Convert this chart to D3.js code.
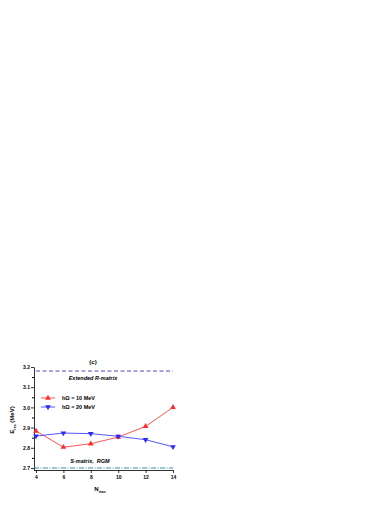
<!DOCTYPE html>
<html>
<head>
<meta charset="utf-8">
<script src="https://cdn.jsdelivr.net/npm/d3@7"></script>
<style>
  body { margin: 0; background: #fff; }
  svg { display: block; font-family: Arial, "Liberation Sans", sans-serif; }
</style>
</head>
<body>
<svg width="390" height="505"></svg>
<script>
const nmax = [4, 6, 8, 10, 12, 14];
const e10 = [2.883, 2.803, 2.82, 2.853, 2.906, 3.0];
const e20 = [2.858, 2.873, 2.87, 2.857, 2.84, 2.805];
const rMatrix = 3.18;
const sMatrix = 2.7;
const yTicks = [2.7, 2.8, 2.9, 3.0, 3.1, 3.2];
const xTicks = [4, 6, 8, 10, 12, 14];
const series = [
  { label: 'h\u03A9 = 10 MeV', values: e10, color: '#ff2a2a', shape: d3.symbolTriangle, rot: 0 },
  { label: 'h\u03A9 = 20 MeV', values: e20, color: '#2a2aff', shape: d3.symbolTriangle, rot: 180 },
];

const svg = d3.select('svg');

// scales
const x = d3.scaleLinear().domain([4, 14]).range([36, 173]);
const y = d3.scaleLinear().domain([2.69, 3.2]).range([470, 367]);

// axes
const yAxis = svg.append('g')
  .attr('transform', 'translate(34,0)')
  .call(d3.axisLeft(y).tickValues(yTicks).tickFormat(d3.format('.1f')).tickSize(3).tickSizeOuter(0));
svg.append('g')
  .attr('transform', 'translate(34,0)')
  .call(d3.axisLeft(y).tickValues(d3.range(2.75, 3.2, 0.1)).tickFormat('').tickSize(2).tickSizeOuter(0))
  .select('.domain').remove();
const xAxis = svg.append('g')
  .attr('transform', 'translate(0,470)')
  .call(d3.axisBottom(x).tickValues(xTicks).tickSize(3).tickSizeOuter(0));
[yAxis, xAxis].forEach(a => {
  a.selectAll('text').attr('font-size', 5).attr('font-weight', 'bold').attr('fill', '#000');
  a.selectAll('line, path').attr('stroke', '#000').attr('stroke-width', 0.8);
});
yAxis.selectAll('text').attr('x', -4).attr('dy', '0.35em');
xAxis.selectAll('text').attr('y', 5);
xAxis.select('.domain').attr('d', `M34,0.5H${x(14)}`);

// reference lines
svg.append('line')
  .attr('x1', x(4)).attr('x2', x(14))
  .attr('y1', y(rMatrix)).attr('y2', y(rMatrix))
  .attr('stroke', '#4a4ab8').attr('stroke-width', 1).attr('stroke-dasharray', '4,2.5');
svg.append('line')
  .attr('x1', 34).attr('x2', x(14))
  .attr('y1', y(sMatrix)).attr('y2', y(sMatrix))
  .attr('stroke', '#1a8c8c').attr('stroke-width', 0.9).attr('stroke-dasharray', '5,1.5,1,1.5');

// series
const line = d3.line().x((d, i) => x(nmax[i])).y(d => y(d));
series.forEach(s => {
  svg.append('path').attr('d', line(s.values))
    .attr('fill', 'none').attr('stroke', s.color).attr('stroke-width', 0.8);
  svg.append('g').selectAll('path').data(s.values).join('path')
    .attr('d', d3.symbol(s.shape, 14))
    .attr('transform', (d, i) => `translate(${x(nmax[i])},${y(d)}) rotate(${s.rot})`)
    .attr('fill', s.color);
});

// legend
series.forEach((s, i) => {
  const ly = 398 + i * 9;
  svg.append('line').attr('x1', 41).attr('x2', 55).attr('y1', ly).attr('y2', ly)
    .attr('stroke', s.color).attr('stroke-width', 0.8);
  svg.append('path').attr('d', d3.symbol(s.shape, 14))
    .attr('transform', `translate(48,${ly}) rotate(${s.rot})`).attr('fill', s.color);
  svg.append('text').attr('x', 62).attr('y', ly).attr('dy', '0.35em')
    .attr('font-size', 5.5).attr('font-weight', 'bold').text(s.label);
});

// annotations
svg.append('text').attr('x', 93).attr('y', 364).attr('text-anchor', 'middle')
  .attr('font-size', 6).attr('font-weight', 'bold').text('(c)');
svg.append('text').attr('x', 93).attr('y', 380).attr('text-anchor', 'middle')
  .attr('font-size', 5.5).attr('font-weight', 'bold').attr('font-style', 'italic')
  .text('Extended R-matrix');
svg.append('text').attr('x', 90).attr('y', 463).attr('text-anchor', 'middle')
  .attr('font-size', 5.5).attr('font-weight', 'bold').attr('font-style', 'italic')
  .attr('xml:space', 'preserve').text('S-matrix,  RGM');

// axis titles
const xt = svg.append('text').attr('x', 100).attr('y', 491).attr('text-anchor', 'middle')
  .attr('font-size', 6).attr('font-weight', 'bold');
xt.append('tspan').text('N');
xt.append('tspan').attr('font-size', 3.5).attr('dy', 1.5).text('max');

const yt = svg.append('text').attr('transform', 'translate(14,420) rotate(-90)')
  .attr('text-anchor', 'middle').attr('font-size', 6).attr('font-weight', 'bold');
yt.append('tspan').text('E');
yt.append('tspan').attr('font-size', 3.5).attr('dy', 1.5).text('res');
yt.append('tspan').attr('dy', -1.5).text(' (MeV)');
</script>
</body>
</html>
